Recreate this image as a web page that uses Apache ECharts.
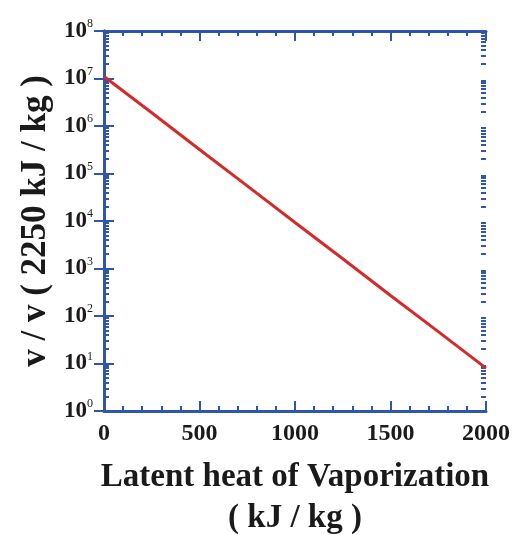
<!DOCTYPE html>
<html>
<head>
<meta charset="utf-8">
<script src="https://cdn.jsdelivr.net/npm/echarts@6/dist/echarts.min.js"></script>
<style>
  html, body { margin: 0; padding: 0; background: #fff; }
  #chart { width: 514px; height: 535px; }
</style>
</head>
<body>
<div id="chart"></div>
<script>
// latent heat (kJ/kg) vs. ratio v / v(2250 kJ/kg)
const heat = [0, 250, 500, 750, 1000, 1250, 1500, 1750, 2000]
const ratio = [1.1e7, 1.9e6, 3.2e5, 5.5e4, 9.3e3, 1.6e3, 270, 47, 8]

const xTicks = [0, 500, 1000, 1500, 2000]
const decades = [0, 1, 2, 3, 4, 5, 6, 7, 8]
const minorSteps = [2, 3, 4, 5, 6, 7, 8, 9]

const blue = '#2f55ad'
const red = '#d52a2a'
const serif = 'Liberation Serif'

// minor tick places of the log axis, in log10 units for the overlay axis
let minorLog = []
decades.slice(0, -1).forEach(d => {
  minorSteps.forEach(k => minorLog.push(d + Math.log10(k)))
})

let chart = echarts.init(document.getElementById('chart'))

const frameLine = { show: true, lineStyle: { color: blue, width: 3 } }
const majorTick = { show: true, inside: true, length: 10, lineStyle: { color: blue, width: 2 } }
const gridRect = { left: 104, right: 28, top: 31, bottom: 124, outerBoundsMode: 'none', containLabel: false }

let option = {
  animation: false,
  grid: [Object.assign({}, gridRect), Object.assign({}, gridRect)],
  xAxis: [
    {
      gridIndex: 0, type: 'value', min: xTicks[0], max: xTicks[xTicks.length - 1], interval: 500,
      axisLine: frameLine, axisTick: majorTick,
      minorTick: { show: true, splitNumber: 5, length: 5, lineStyle: { color: blue, width: 2 } },
      splitLine: { show: false },
      axisLabel: {
        margin: 11, color: '#1a1a1a', fontFamily: serif, fontWeight: 'bold', fontSize: 24,
        formatter: v => String(v)
      },
      name: 'Latent heat of Vaporization\n( kJ / kg )',
      nameLocation: 'middle', nameGap: 46,
      nameTextStyle: { color: '#1a1a1a', fontFamily: serif, fontWeight: 'bold', fontSize: 33, lineHeight: 41 }
    },
    {
      gridIndex: 0, type: 'value', position: 'top', min: 0, max: 2000, interval: 500,
      axisLine: frameLine, axisTick: majorTick,
      minorTick: { show: true, splitNumber: 5, length: 5, lineStyle: { color: blue, width: 2 } },
      splitLine: { show: false }, axisLabel: { show: false }
    },
    {
      gridIndex: 1, type: 'value', min: 0, max: 2000, show: false
    }
  ],
  yAxis: [
    {
      gridIndex: 0, type: 'log', logBase: 10, min: 1, max: 1e8, interval: 1,
      axisLine: frameLine, axisTick: majorTick, splitLine: { show: false },
      axisLabel: {
        margin: 11, color: '#1a1a1a',
        formatter: v => '{b|10}{s|' + Math.round(Math.log10(v)) + '}',
        rich: {
          b: { fontFamily: serif, fontWeight: 'bold', fontSize: 23, color: '#1a1a1a' },
          s: { fontFamily: serif, fontSize: 12, color: '#1a1a1a', padding: [0, 0, 14, 0] }
        }
      },
      name: 'v / v ( 2250 kJ / kg )',
      nameLocation: 'middle', nameRotate: 90, nameGap: 47,
      nameTextStyle: { color: '#1a1a1a', fontFamily: serif, fontWeight: 'bold', fontSize: 35 }
    },
    {
      gridIndex: 0, type: 'log', logBase: 10, position: 'right', min: 1, max: 1e8, interval: 1,
      axisLine: frameLine, axisTick: majorTick, splitLine: { show: false },
      axisLabel: { show: false }
    },
    {
      // minor ticks (2..9 in every decade), left side
      gridIndex: 1, type: 'value', position: 'left', min: 0, max: 8,
      axisLine: { show: false }, splitLine: { show: false }, axisLabel: { show: false },
      axisTick: { show: true, inside: true, length: 5, customValues: minorLog, lineStyle: { color: blue, width: 2 } }
    },
    {
      // minor ticks, right side
      gridIndex: 1, type: 'value', position: 'right', min: 0, max: 8,
      axisLine: { show: false }, splitLine: { show: false }, axisLabel: { show: false },
      axisTick: { show: true, inside: true, length: 5, customValues: minorLog, lineStyle: { color: blue, width: 2 } }
    }
  ],
  series: [
    {
      type: 'line',
      xAxisIndex: 0, yAxisIndex: 0,
      data: heat.map((h, i) => [h, ratio[i]]),
      showSymbol: false,
      lineStyle: { color: red, width: 3 },
      z: 1
    }
  ]
}

chart.setOption(option)
</script>
</body>
</html>
